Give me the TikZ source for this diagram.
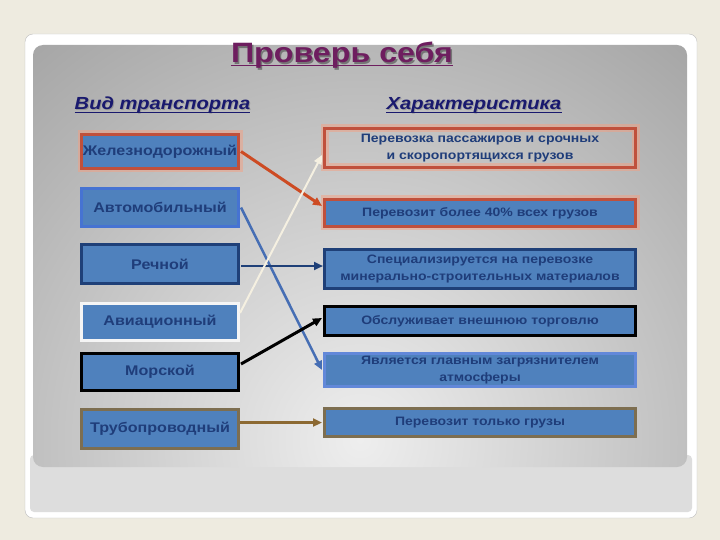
\documentclass[tikz,border=0pt]{standalone}
\usepackage{fontspec}
\setmainfont{Liberation Sans}
\newfontfamily\widefont[FakeStretch=1.15]{Liberation Sans}
\usetikzlibrary{arrows.meta}
\definecolor{pagebg}{RGB}{238,235,224}
\definecolor{framedraw}{RGB}{190,190,190}
\definecolor{stripc}{RGB}{221,221,221}
\definecolor{boxfill}{RGB}{79,129,189}
\definecolor{boxtext}{RGB}{31,61,122}
\definecolor{redb}{RGB}{192,80,60}
\definecolor{glowc}{RGB}{245,160,130}
\definecolor{autob}{RGB}{70,115,210}
\definecolor{navyb}{RGB}{31,64,120}
\definecolor{whiteb}{RGB}{245,245,245}
\definecolor{oliveb}{RGB}{125,110,80}
\definecolor{titlec}{RGB}{110,30,95}
\definecolor{headc}{RGB}{25,25,110}
\definecolor{redarrow}{RGB}{205,75,35}
\definecolor{autoarrow}{RGB}{70,110,180}
\definecolor{airarrow}{RGB}{245,240,225}
\definecolor{pipearrow}{RGB}{140,105,50}
\definecolor{lightpanel}{RGB}{238,238,238}
\definecolor{darkpanel}{RGB}{165,165,165}
\begin{document}
\begin{tikzpicture}[x=1pt,y=-1pt,
  lbox/.style={draw, line width=3pt, fill=boxfill, text=boxtext,
    font=\widefont\fontsize{14}{16}\selectfont\bfseries, minimum width=157pt, inner sep=0pt, align=center},
  rbox/.style={draw, line width=3pt, fill=boxfill, text=boxtext,
    font=\widefont\fontsize{12.2}{17.5}\selectfont\bfseries, minimum width=311pt, inner sep=0pt, align=center},
  glowing/.style={preaction={draw=glowc, line width=8pt, opacity=0.5}},
  conn/.style={line width=2.5pt, -{Triangle[length=9pt,width=8pt]}},
  headtext/.style={text=headc, inner sep=0pt, anchor=base, font=\widefont\fontsize{17.5}{20}\selectfont\bfseries\itshape},
  titletext/.style={inner sep=0pt, anchor=base, font=\widefont\fontsize{28}{32}\selectfont\bfseries},
]
\useasboundingbox (0,0) rectangle (720,540);
\fill[pagebg] (0,0) rectangle (720,540);
% frame
\draw[framedraw, fill=white, rounded corners=8pt] (25,34) rectangle (697,518);
\fill[stripc, rounded corners=4pt] (30,455) rectangle (692,512);
% panel
\begin{scope}
  \clip[rounded corners=10pt] (33,45) rectangle (687,467);
  \shade[inner color=lightpanel, outer color=darkpanel] (360,440) circle (520);
\end{scope}
% title
\node[titletext, text=black!75, opacity=0.55] at (343.5,64.5) {Проверь себя};
\node[titletext, text=titlec] (title) at (342,63) {Проверь себя};
\draw[titlec, line width=1.8pt] ([yshift=-2.5pt]title.base west) -- ([yshift=-2.5pt]title.base east);
% headers
\node[headtext, text=black!60, opacity=0.4] at (163.5,111) {Вид транспорта};
\node[headtext] (hl) at (162.5,110) {Вид транспорта};
\draw[headc, line width=1pt] ([yshift=-2.5pt]hl.base west) -- ([yshift=-2.5pt]hl.base east);
\node[headtext, text=black!60, opacity=0.4] at (475,111) {Характеристика};
\node[headtext] (hr) at (474,110) {Характеристика};
\draw[headc, line width=1pt] ([yshift=-2.5pt]hr.base west) -- ([yshift=-2.5pt]hr.base east);
% left boxes
\node[lbox, draw=redb, glowing, minimum height=34pt] (l1) at (160,151.5) {Железнодорожный};
\node[lbox, draw=autob, minimum height=38pt] (l2) at (160,207.5) {Автомобильный};
\node[lbox, draw=navyb, minimum height=39pt] (l3) at (160,264) {Речной};
\node[lbox, draw=whiteb, minimum height=37pt] (l4) at (160,322) {Авиационный};
\node[lbox, draw=black, minimum height=37pt] (l5) at (160,372) {Морской};
\node[lbox, draw=oliveb, minimum height=39pt] (l6) at (160,429) {Трубопроводный};
% right boxes
\node[rbox, draw=redb, glowing, fill=none, minimum height=39pt] (r1) at (480,148) {Перевозка пассажиров и срочных\\и скоропортящихся грузов};
\node[rbox, draw=redb, glowing, minimum height=27pt] (r2) at (480,213) {Перевозит более 40\% всех грузов};
\node[rbox, draw=navyb, minimum height=39pt] (r3) at (480,269) {Специализируется на перевозке\\минерально-строительных материалов};
\node[rbox, draw=black, minimum height=29pt] (r4) at (480,321) {Обслуживает внешнюю торговлю};
\node[rbox, draw=autob!85!white, minimum height=33pt] (r5) at (480,370) {Является главным загрязнителем\\атмосферы};
\node[rbox, draw=oliveb, minimum height=28pt] (r6) at (480,422.5) {Перевозит только грузы};
% connectors
\draw[conn, redarrow, line width=3pt] ([xshift=1pt]l1.east) -- ([yshift=7pt,xshift=-1pt]r2.west);
\draw[conn, autoarrow] ([xshift=1pt]l2.east) -- ([xshift=-1pt]r5.west);
\draw[conn, navyb] ([xshift=1pt,yshift=-2pt]l3.east) -- ([yshift=-2pt]l3.east -| r3.west);
\draw[conn, airarrow, line width=2pt] ([yshift=9pt]l4.east) -- ([yshift=-7pt,xshift=-1pt]r1.west);
\draw[conn, black, line width=3pt] ([xshift=1pt,yshift=8pt]l5.east) -- ([yshift=3pt,xshift=-1pt]r4.west);
\draw[conn, pipearrow] (r6.west -| l6.east) -- ([xshift=-1pt]r6.west);
\end{tikzpicture}
\end{document}
